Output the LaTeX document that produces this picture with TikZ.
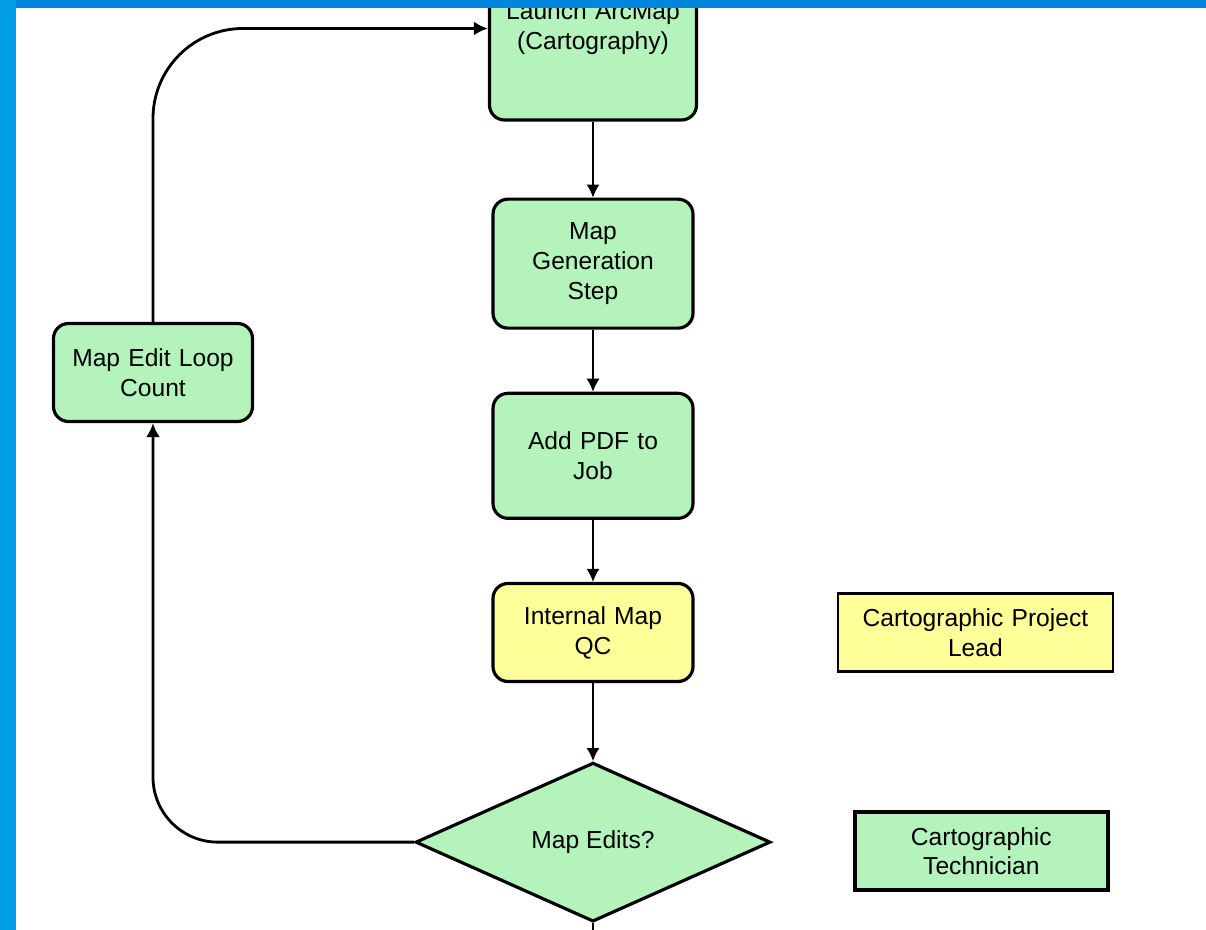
\documentclass[tikz,border=0pt]{standalone}
\usepackage{fontspec}
\setmainfont{Liberation Sans}
\usepackage{xcolor}
\usetikzlibrary{shapes.geometric, arrows.meta, positioning}
\definecolor{stepgreen}{RGB}{180,244,188}
\definecolor{qcyellow}{RGB}{255,255,153}
\definecolor{slidetop}{RGB}{0,134,222}
\definecolor{slideside}{RGB}{0,156,228}

\begin{document}
\begin{tikzpicture}
    \tikzstyle{stepbox} = [rectangle, draw, line width=1.8pt, fill=stepgreen, text width=3.8cm, align=center, rounded corners=0.3cm, minimum width=4cm, inner sep=0pt, font=\fontsize{14}{17}\selectfont]
    \tikzstyle{decision} = [diamond, draw, line width=1.8pt, fill=stepgreen, aspect=2.28, minimum width=7.1cm, minimum height=3.18cm, inner sep=0pt, font=\fontsize{14}{17}\selectfont]
    \tikzstyle{legend} = [rectangle, draw, line width=1.5pt, text width=5cm, align=center, minimum height=1.56cm, inner sep=0pt, font=\fontsize{14}{17}\selectfont]
    \tikzstyle{line} = [draw, line width=0.9pt, -{Latex[length=0.26cm, width=0.26cm]}]
    \tikzstyle{loopline} = [draw, line width=1.6pt, -{Latex[length=0.28cm, width=0.28cm]}]

    \useasboundingbox (0,0) rectangle (24.12,-18.6);

    \node [stepbox, minimum width=4.14cm, minimum height=3.66cm] (launch) at (11.86,-0.57) {Launch ArcMap\\(Cartography)};
    \node [stepbox, below=1.52cm of launch, minimum height=2.58cm] (mapgen) {Map\\Generation\\Step};
    \node [stepbox, below=1.24cm of mapgen, minimum height=2.5cm] (addpdf) {Add PDF to\\Job};
    \node [stepbox, below=1.24cm of addpdf, minimum height=1.96cm, fill=qcyellow] (qc) {Internal Map\\QC};
    \node [decision, below=1.56cm of qc] (edits) {Map Edits?};
    \node [stepbox, minimum width=3.98cm, minimum height=1.96cm] (loop) at (3.06,-7.45) {Map Edit Loop\\Count};
    \node [legend, right=2.84cm of qc, minimum width=5.5cm, fill=qcyellow] (lead) {Cartographic Project\\Lead};
    \node [legend, right=1.62cm of edits, yshift=-0.18cm, minimum width=5.06cm, line width=2pt, fill=stepgreen] (tech) {Cartographic\\Technician};
    \coordinate [below=0.6cm of edits.south] (nextstep);

    \path [line] (launch) -- (mapgen);
    \path [line] (mapgen) -- (addpdf);
    \path [line] (addpdf) -- (qc);
    \path [line] (qc) -- (edits);
    \path [draw, line width=0.9pt] (edits.south) -- (nextstep);
    \path [loopline, rounded corners=1.3cm] (edits.west) -| (loop.south);
    \path [loopline, rounded corners=1.8cm] (loop.north) |- (launch.west);

    % slide frame
    \fill [slidetop] (0,0) rectangle (24.12,-0.16);
    \fill [slideside] (0,0) rectangle (0.32,-18.6);
\end{tikzpicture}
\end{document}
